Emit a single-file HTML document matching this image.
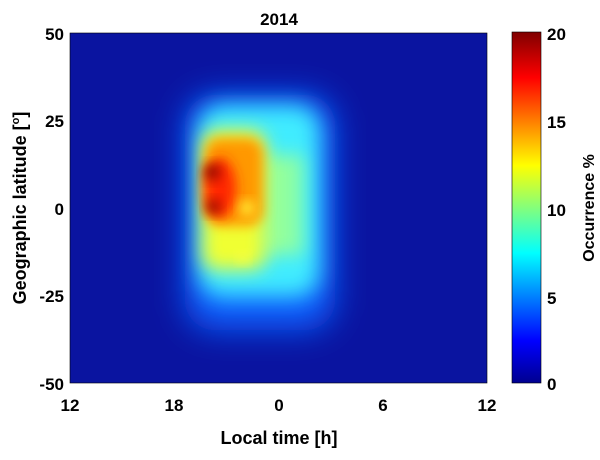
<!DOCTYPE html>
<html><head><style>
body{margin:0;background:#fff;width:600px;height:455px;overflow:hidden;font-family:"Liberation Sans",sans-serif;}
</style></head><body>
<svg width="600" height="455" xmlns="http://www.w3.org/2000/svg" font-family="Liberation Sans, sans-serif" font-weight="bold">
<defs>
<filter id="b0" x="-50%" y="-50%" width="200%" height="200%"><feGaussianBlur stdDeviation="16"/></filter>
<filter id="b1" x="-50%" y="-50%" width="200%" height="200%"><feGaussianBlur stdDeviation="11"/></filter>
<filter id="b2" x="-50%" y="-50%" width="200%" height="200%"><feGaussianBlur stdDeviation="9"/></filter>
<filter id="b3" x="-50%" y="-50%" width="200%" height="200%"><feGaussianBlur stdDeviation="6"/></filter>
<clipPath id="c"><rect x="70" y="33" width="417" height="350"/></clipPath>
<linearGradient id="jet" x1="0" y1="1" x2="0" y2="0">
<stop offset="0" stop-color="#00008f"/>
<stop offset="0.12" stop-color="#0000ff"/>
<stop offset="0.37" stop-color="#00ffff"/>
<stop offset="0.62" stop-color="#ffff00"/>
<stop offset="0.87" stop-color="#ff0000"/>
<stop offset="1" stop-color="#800000"/>
</linearGradient>
</defs>
<g clip-path="url(#c)">
<rect x="70" y="33" width="417" height="350" fill="#0a14a0"/>
<rect x="185" y="95" width="150" height="235" rx="30" fill="#1060ff" filter="url(#b0)"/>
<rect x="198" y="105" width="122" height="192" rx="25" fill="#40ecff" filter="url(#b1)"/>
<rect x="258" y="155" width="45" height="100" fill="#90ffa0" filter="url(#b2)"/>
<rect x="202" y="130" width="64" height="140" rx="15" fill="#f0ff30" filter="url(#b2)"/>
<rect x="205" y="138" width="58" height="88" rx="15" fill="#ff9800" filter="url(#b3)"/>
<ellipse cx="220" cy="188" rx="16" ry="30" fill="#ff2800" filter="url(#b3)"/>
<circle cx="212" cy="172" r="8" fill="#8a0000" filter="url(#b3)"/>
<circle cx="213" cy="207" r="7" fill="#8a0000" filter="url(#b3)"/>
<circle cx="247" cy="208" r="7" fill="#ffff40" filter="url(#b3)"/>
<circle cx="243" cy="258" r="5" fill="#ffff40" filter="url(#b3)"/>
</g>
<rect x="70" y="33" width="417" height="350" fill="none" stroke="#000" stroke-width="0.6"/>
<text x="279" y="25" text-anchor="middle" font-size="17">2014</text>
<g font-size="17" text-anchor="end">
<text x="64" y="40">50</text><text x="64" y="127">25</text><text x="64" y="215">0</text><text x="64" y="302">-25</text><text x="64" y="390">-50</text>
</g>
<g font-size="17" text-anchor="middle">
<text x="70" y="411">12</text><text x="174" y="411">18</text><text x="279" y="411">0</text><text x="383" y="411">6</text><text x="487" y="411">12</text>
</g>
<text x="279" y="444" text-anchor="middle" font-size="18">Local time [h]</text>
<text transform="translate(26,208) rotate(-90)" text-anchor="middle" font-size="18">Geographic latitude [<tspan font-size="11" dy="-7">o</tspan><tspan dy="7">]</tspan></text>
<rect x="512" y="32" width="29" height="351" fill="url(#jet)" stroke="#000" stroke-width="0.6"/>
<g font-size="17">
<text x="547" y="40">20</text><text x="547" y="128">15</text><text x="547" y="216">10</text><text x="547" y="304">5</text><text x="547" y="390">0</text>
</g>
<text transform="translate(594,208) rotate(-90)" text-anchor="middle" font-size="16">Occurrence %</text>
</svg>
</body></html>
